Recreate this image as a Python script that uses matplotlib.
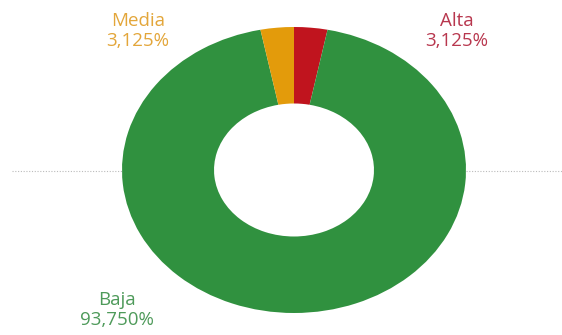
import matplotlib
matplotlib.use("Agg")
import matplotlib.pyplot as plt

labels = ["Alta", "Baja", "Media"]
shares = [3.125, 93.750, 3.125]
colors = ["#C0141E", "#30913F", "#E39B0B"]
label_colors = ["#B8374E", "#4E9A5A", "#E3A63A"]
label_pos = [(457, 31), (117, 310), (138, 31)]   # pixel centres of the labels

W, H = 562, 335
fig = plt.figure(figsize=(W / 100, H / 100), dpi=100)

# background axes for the dotted guide line
bg = fig.add_axes([0, 0, 1, 1])
bg.set_xlim(0, W)
bg.set_ylim(H, 0)
bg.axis("off")
bg.plot([12, 122], [171, 171], ls=(0, (1, 1.5)), color="#BBBBBB", lw=0.8)
bg.plot([466, W], [171, 171], ls=(0, (1, 1.5)), color="#BBBBBB", lw=0.8)

# donut, a bit stretched sideways like the original
ax = fig.add_axes([122 / W, (H - 313) / H, 344 / W, 286 / H])
ax.pie(shares, colors=colors, startangle=90, counterclock=False,
       wedgeprops=dict(width=0.535, linewidth=0), radius=1)
ax.set_aspect("auto")
ax.set_xlim(-1, 1)
ax.set_ylim(-1, 1)
ax.axis("off")

for lab, val, c, (x, y) in zip(labels, shares, label_colors, label_pos):
    txt = lab + "\n" + f"{val:.3f}".replace(".", ",") + "%"
    bg.text(x, y, txt, color=c, ha="center", va="center", fontsize=13.5,
            family="Open Sans", linespacing=1.15)

fig.savefig("out.png", dpi=100)
